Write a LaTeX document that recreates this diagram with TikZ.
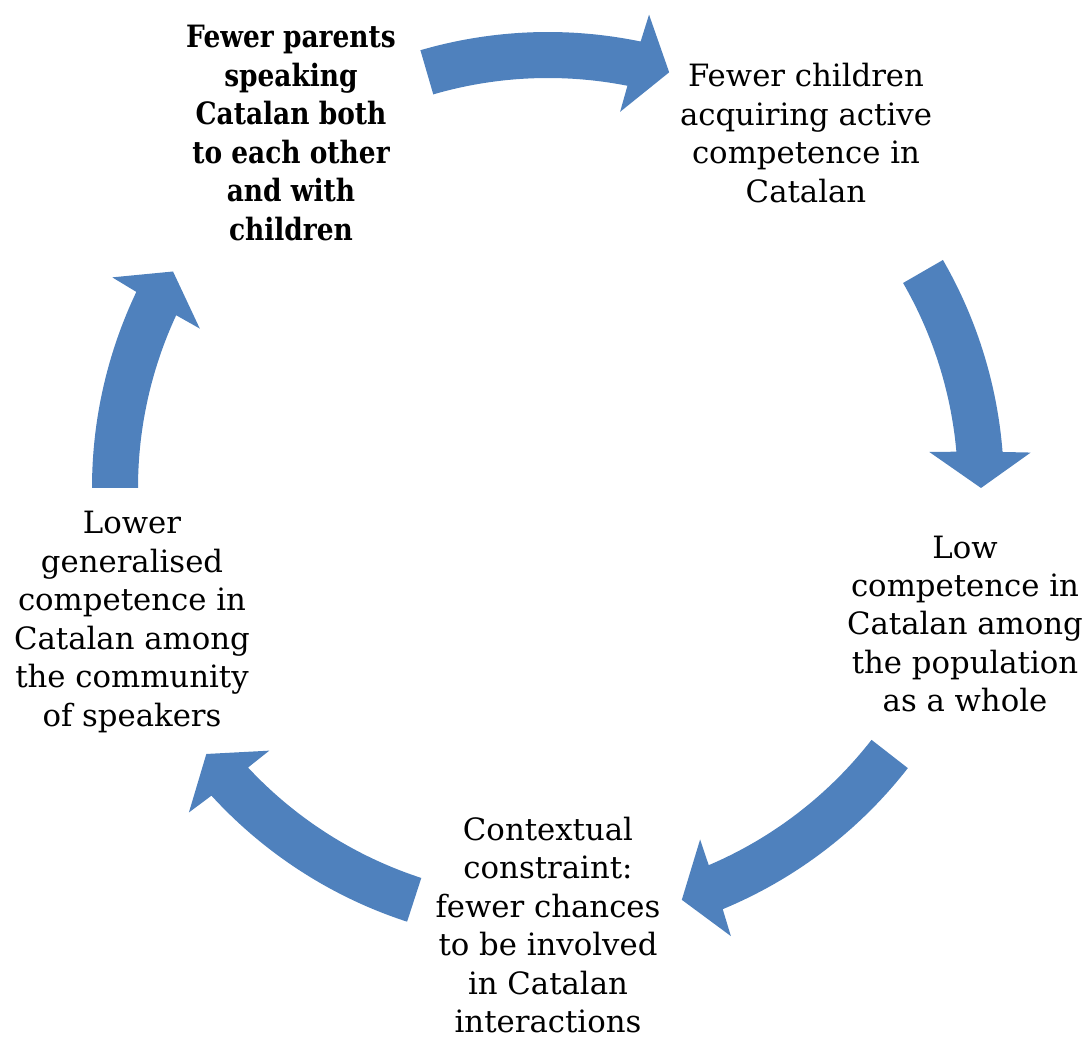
\documentclass[tikz,border=0pt]{standalone}
\usepackage{fontspec}
\setmainfont{DejaVu Serif}
\newfontfamily\keyfont[FakeStretch=0.86]{DejaVu Serif}
\definecolor{cycleblue}{HTML}{4F81BD}

\begin{document}
\begin{tikzpicture}
	[stage/.style ={align=center, inner sep=0pt, font=\fontsize{17.5}{21.9}\selectfont},
	keystage/.style ={stage, font=\keyfont\fontsize{17.5}{21.9}\selectfont\bfseries},
	turn/.style ={fill=cycleblue, draw=none},
	]
	\useasboundingbox (0,0) rectangle (21.72,20.78);
	\coordinate (O) at (10.96,11.02);

	\draw (5.82,18.12) node[keystage] (S1) {Fewer parents\\speaking\\Catalan both\\to each other\\and with\\children};
	\draw (16.12,18.12) node[stage] (S2) {Fewer children\\acquiring active\\competence in\\Catalan};
	\draw (19.30,8.30) node[stage] (S3) {Low\\competence in\\Catalan among\\the population\\as a whole};
	\draw (10.96,2.28) node[stage] (S4) {Contextual\\constraint:\\fewer chances\\to be involved\\in Catalan\\interactions};
	\draw (2.64,8.34) node[stage] (S5) {Lower\\generalised\\competence in\\Catalan among\\the community\\of speakers};

	% curved block arrows, tail angle / tip angle round O
	\begin{scope}[shift={(O)}]
	\foreach \ta/\tb in {106.25/73.75, 30/0, -37.9/-72, 252/217.9, 180/150}
		\path[turn] (\ta:9.12) arc[start angle=\ta, end angle=\tb+4.53, radius=9.12]
			-- ({\tb+4.2}:9.68) -- (\tb:8.66) -- ({\tb+5.4}:7.66) -- ({\tb+5.08}:8.2)
			arc[start angle=\tb+5.08, end angle=\ta, radius=8.2] -- cycle;
	\end{scope}

\end{tikzpicture}
\end{document}
